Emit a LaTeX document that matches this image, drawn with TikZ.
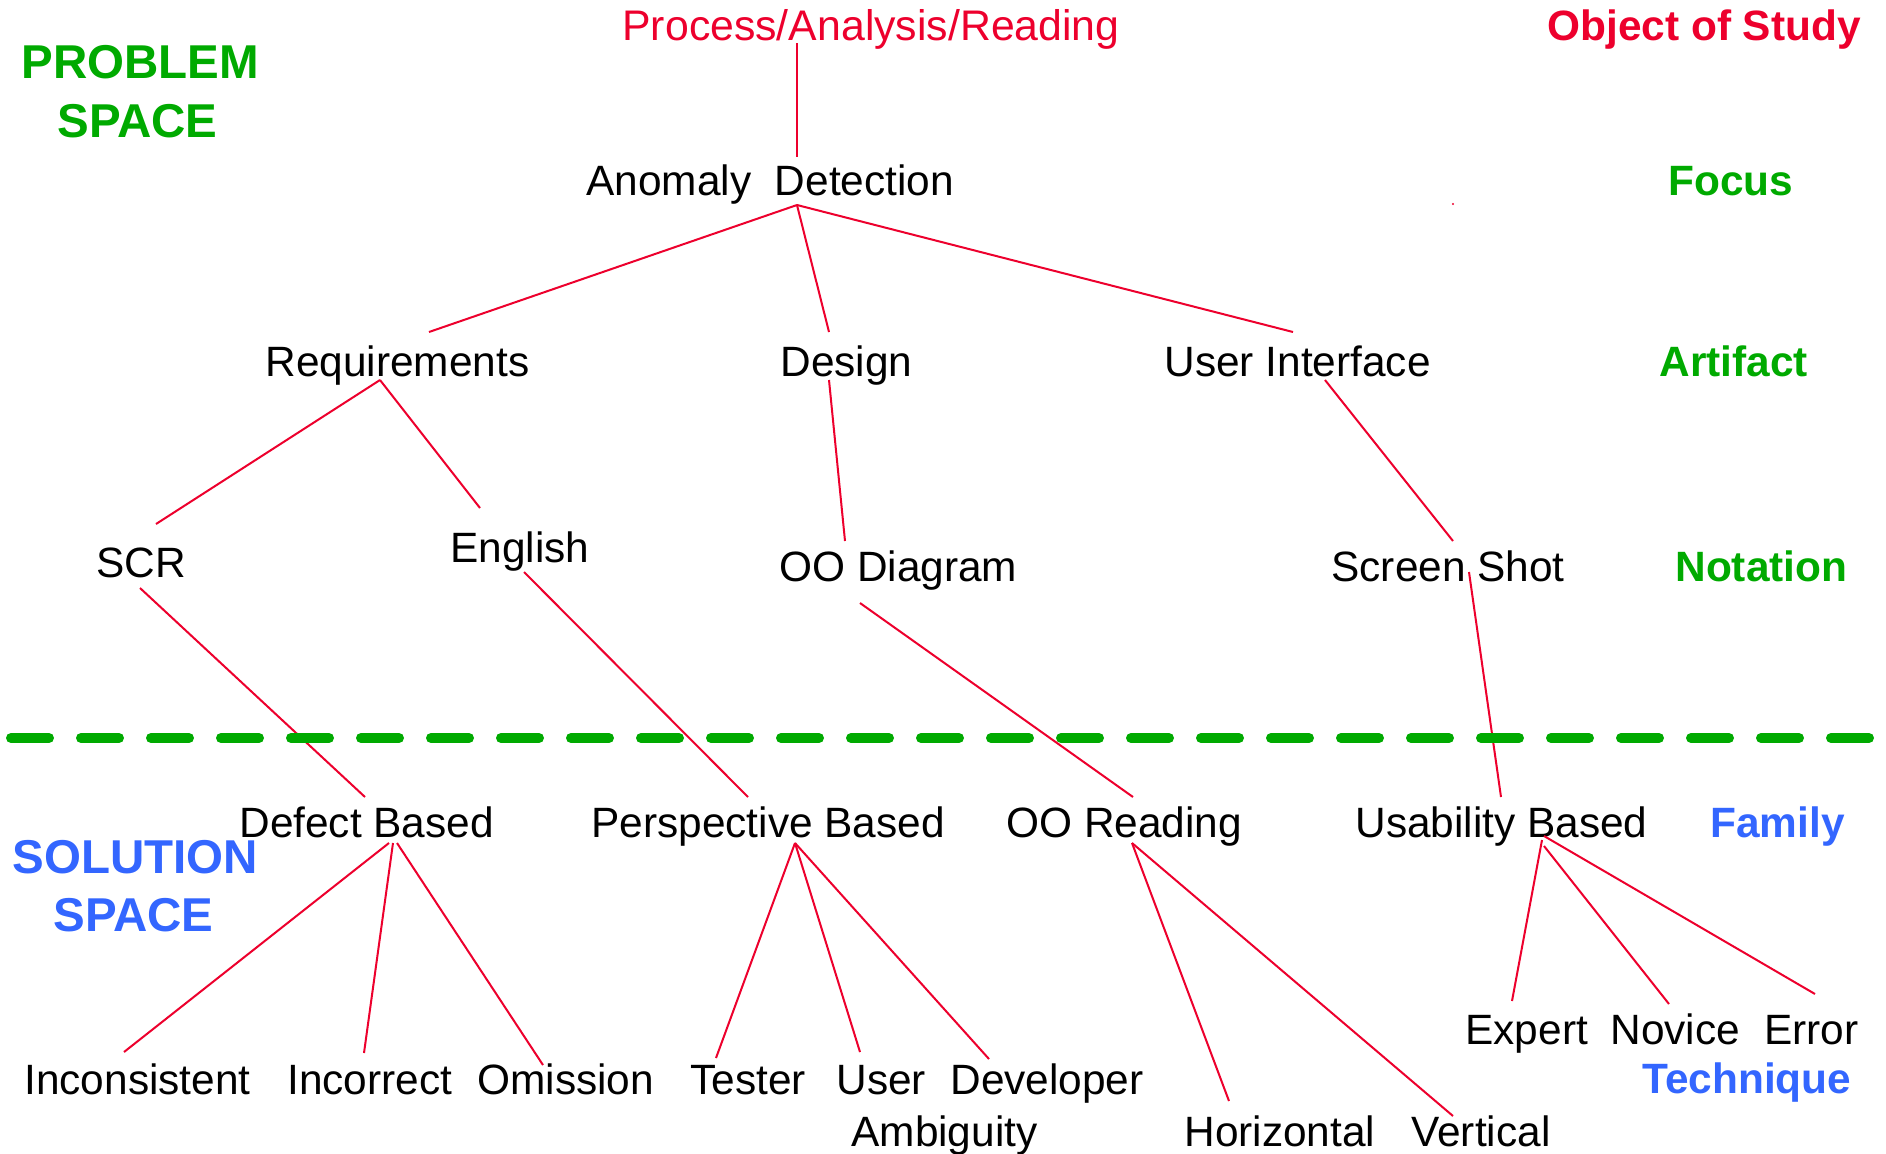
\documentclass[tikz,border=0pt]{standalone}
\usepackage{fontspec}
\setmainfont{Liberation Sans}
\definecolor{lred}{RGB}{237,0,45}
\definecolor{lgreen}{RGB}{0,170,0}
\definecolor{lblue}{RGB}{51,102,255}
\begin{document}
\begin{tikzpicture}[x=0.5pt,y=-0.5pt,
  txt/.style={font=\fontsize{21.2}{25}\selectfont, inner sep=0pt, anchor=base west},
  cat/.style={inner sep=0pt, anchor=base west, font=\fontsize{21.2}{25}\selectfont\bfseries},
  bigcat/.style={inner sep=0pt, anchor=base west, font=\fontsize{23.75}{28}\selectfont\bfseries},
  link/.style={draw=lred, line width=1pt},
  divider/.style={draw=lgreen, line width=5pt, line cap=round, dash pattern=on 19pt off 16pt}
]
\fill[white] (0,0) rectangle (1886,1153);
\useasboundingbox (0,0) rectangle (1886,1153);

% texts
\node[txt, text=lred, font=\fontsize{21.4}{25}\selectfont] (proc) at (622,40) {Process/Analysis/Reading};
\node[cat, text=lred] (obj) at (1547,40) {Object of Study};
\node[bigcat, text=lgreen] (prob1) at (21,78) {PROBLEM};
\node[bigcat, text=lgreen] (prob2) at (57,137) {SPACE};
\node[txt] (ad) at (586,195) {Anomaly\ \ Detection};
\node[cat, text=lgreen] (focus) at (1668,195) {Focus};
\node[txt] (req) at (265,376) {Requirements};
\node[txt] (des) at (780,376) {Design};
\node[txt] (ui) at (1164,376) {User Interface};
\node[cat, text=lgreen] (artifact) at (1659,376) {Artifact};
\node[txt] (scr) at (96,577) {SCR};
\node[txt] (eng) at (450,562) {English};
\node[txt] (ood) at (779,581) {OO Diagram};
\node[txt] (ss) at (1331,581) {Screen Shot};
\node[cat, text=lgreen] (notation) at (1675,581) {Notation};
\node[txt] (def) at (239,837) {Defect Based};
\node[txt] (per) at (591,837) {Perspective Based};
\node[txt] (oor) at (1006,837) {OO Reading};
\node[txt] (ub) at (1355,837) {Usability Based};
\node[cat, text=lblue] (family) at (1710,837) {Family};
\node[bigcat, text=lblue] (sol1) at (12,873) {SOLUTION};
\node[bigcat, text=lblue] (sol2) at (53,931) {SPACE};
\node[txt] (expert) at (1465,1044) {Expert};
\node[txt] (novice) at (1610,1044) {Novice};
\node[txt] (error) at (1764,1044) {Error};
\node[txt] (incons) at (24,1094) {Inconsistent};
\node[txt] (incor) at (287,1094) {Incorrect};
\node[txt] (omis) at (477,1094) {Omission};
\node[txt] (tester) at (690,1094) {Tester};
\node[txt] (user) at (836,1094) {User};
\node[txt] (dev) at (950,1094) {Developer};
\node[cat, text=lblue] (tech) at (1642,1093) {Technique};
\node[txt] (amb) at (851,1146) {Ambiguity};
\node[txt] (hor) at (1184,1146) {Horizontal};
\node[txt] (ver) at (1411,1146) {Vertical};

% connector end points
\coordinate (proc-s) at (797,43);
\coordinate (ad-n) at (797,157);
\coordinate (ad-s) at (797,205);
\coordinate (req-n) at (429,332);
\coordinate (des-n) at (829,332);
\coordinate (ui-n) at (1293,332);
\coordinate (req-s) at (380,380);
\coordinate (des-s) at (829,380);
\coordinate (ui-s) at (1325,380);
\coordinate (scr-n) at (156,524);
\coordinate (eng-n) at (480,508);
\coordinate (ood-n) at (845,541);
\coordinate (ss-n) at (1453,541);
\coordinate (scr-s) at (140,588);
\coordinate (eng-s) at (524,572);
\coordinate (ood-s) at (860,603);
\coordinate (ss-s) at (1469,572);
\coordinate (def-n) at (365,797);
\coordinate (per-n) at (748,797);
\coordinate (oor-n) at (1133,797);
\coordinate (ub-n) at (1501,797);
\coordinate (def-s1) at (389,843);
\coordinate (def-s2) at (393,843);
\coordinate (def-s3) at (397,843);
\coordinate (per-s) at (795,843);
\coordinate (oor-s) at (1132,843);
\coordinate (ub-s1) at (1542,840);
\coordinate (ub-s2) at (1544,846);
\coordinate (ub-s3) at (1544,836);
\coordinate (incons-n) at (124,1052);
\coordinate (incor-n) at (364,1053);
\coordinate (omis-n) at (543,1065);
\coordinate (tester-n) at (716,1058);
\coordinate (user-n) at (860,1052);
\coordinate (dev-n) at (989,1059);
\coordinate (hor-n) at (1229,1101);
\coordinate (ver-n) at (1453,1116);
\coordinate (expert-n) at (1512,1001);
\coordinate (novice-n) at (1669,1004);
\coordinate (error-n) at (1815,994);
\coordinate (divL) at (11,738);
\coordinate (divR) at (1870,738);

% connectors
\draw[link] (proc-s) -- (ad-n);
\draw[link] (ad-s) -- (req-n);
\draw[link] (ad-s) -- (des-n);
\draw[link] (ad-s) -- (ui-n);
\draw[link] (req-s) -- (scr-n);
\draw[link] (req-s) -- (eng-n);
\draw[link] (des-s) -- (ood-n);
\draw[link] (ui-s) -- (ss-n);
\draw[link] (scr-s) -- (def-n);
\draw[link] (eng-s) -- (per-n);
\draw[link] (ood-s) -- (oor-n);
\draw[link] (ss-s) -- (ub-n);
\draw[link] (def-s1) -- (incons-n);
\draw[link] (def-s2) -- (incor-n);
\draw[link] (def-s3) -- (omis-n);
\draw[link] (per-s) -- (tester-n);
\draw[link] (per-s) -- (user-n);
\draw[link] (per-s) -- (dev-n);
\draw[link] (oor-s) -- (hor-n);
\draw[link] (oor-s) -- (ver-n);
\draw[link] (ub-s1) -- (expert-n);
\draw[link] (ub-s2) -- (novice-n);
\draw[link] (ub-s3) -- (error-n);

% divider
\draw[divider] (divL) -- (divR);

% stray dot
\fill[lred] (1453,204) circle[radius=0.6pt];
\end{tikzpicture}
\end{document}
